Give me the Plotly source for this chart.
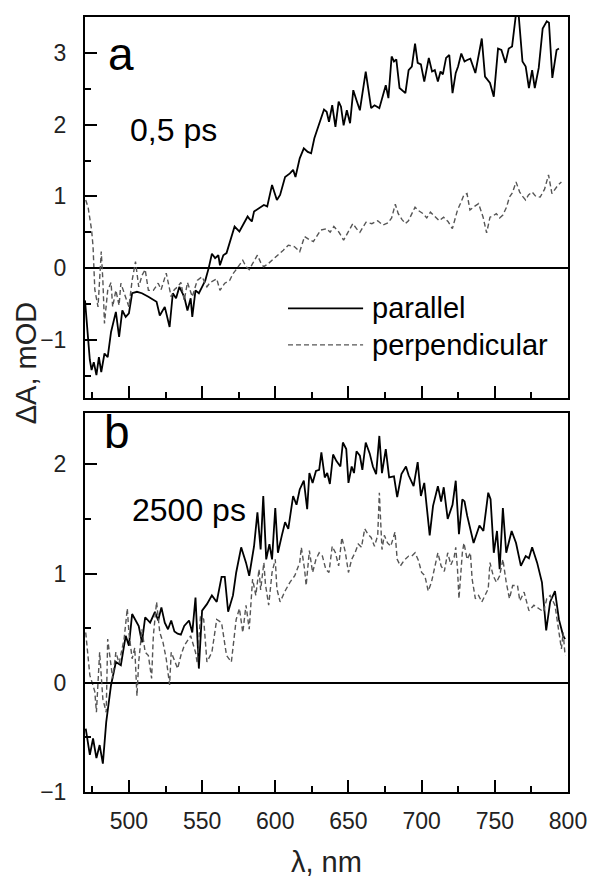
import plotly.graph_objects as go

# ---------------- data ----------------
# Panel a: 0,5 ps
wl_a_par = [470.0, 471.1, 473.3, 474.5, 476.0, 477.8, 479.5, 481.1, 483.3, 485.5, 487.8, 491.1, 493.3,
            495.5, 497.8, 500.0, 502.2, 505.5, 508.9, 513.3, 518.9, 521.1, 524.5, 527.8, 530.0, 532.2,
            534.5, 537.8, 540.0, 542.2, 543.3, 545.5, 547.8, 550.0, 552.2, 554.5, 556.7, 558.9, 561.1,
            562.2, 564.5, 566.7, 568.9, 572.2, 575.5, 578.9, 581.1, 582.2, 584.0, 585.5, 588.9, 592.2,
            594.5, 597.8, 601.1, 603.3, 606.7, 610.0, 612.2, 613.8, 616.7, 619.5, 622.2, 624.5, 626.7,
            630.0, 633.3, 635.1, 636.7, 638.9, 641.1, 643.3, 644.9, 646.7, 648.9, 651.1, 653.3, 655.5,
            657.8, 661.8, 665.5, 667.8, 671.1, 675.5, 677.3, 679.5, 681.1, 682.7, 684.9, 688.9, 691.1,
            693.3, 695.5, 697.3, 699.5, 701.8, 704.9, 707.1, 709.0, 711.1, 712.9, 714.5, 716.7, 718.9,
            721.1, 723.3, 724.9, 727.1, 729.3, 731.1, 733.3, 736.7, 741.1, 743.3, 746.7, 749.3, 752.2,
            754.5, 757.3, 759.5, 761.8, 764.5, 766.2, 768.9, 771.1, 773.3, 775.5, 777.3, 780.0, 782.7,
            785.5, 787.0, 789.3, 792.2, 793.8]
da_a_par = [-0.45, -0.77, -1.28, -1.42, -1.31, -1.49, -1.24, -1.45, -1.19, -1.24, -0.89, -0.61, -0.96,
            -0.59, -0.68, -0.63, -0.35, -0.33, -0.35, -0.40, -0.47, -0.66, -0.54, -0.82, -0.35, -0.42,
            -0.26, -0.40, -0.59, -0.42, -0.68, -0.31, -0.35, -0.26, -0.17, 0.00, 0.20, 0.14, 0.18,
            0.04, 0.18, 0.21, 0.37, 0.58, 0.51, 0.65, 0.72, 0.69, 0.65, 0.79, 0.83, 0.88,
            0.86, 1.16, 0.95, 1.02, 1.27, 1.32, 1.37, 1.27, 1.53, 1.67, 1.62, 1.60, 1.81,
            2.02, 2.21, 2.18, 2.04, 2.27, 1.97, 2.32, 2.25, 1.99, 2.20, 2.02, 2.48, 2.34,
            2.20, 2.74, 2.23, 2.27, 2.23, 2.55, 2.37, 2.95, 2.88, 2.91, 2.51, 2.44, 2.76,
            2.81, 3.13, 2.86, 2.84, 2.60, 2.93, 2.74, 2.76, 2.60, 2.74, 2.70, 2.93, 2.97,
            2.44, 2.72, 2.81, 2.99, 2.88, 2.90, 2.92, 2.72, 3.20, 2.67, 2.58, 2.39, 3.06,
            3.04, 2.86, 3.06, 3.09, 3.55, 3.55, 2.88, 2.81, 2.51, 2.76, 2.51, 2.79, 3.34,
            3.44, 3.42, 2.65, 3.04, 3.06]

wl_a_perp = [470.5, 472.2, 474.5, 475.5, 476.7, 478.9, 481.1, 482.2, 483.3, 484.4, 485.5, 487.8, 488.9,
             491.1, 493.3, 494.5, 496.7, 500.0, 502.2, 504.5, 506.7, 509.0, 511.1, 513.3, 516.7, 520.0,
             522.0, 524.5, 525.5, 528.9, 531.0, 533.3, 535.5, 537.8, 540.0, 543.3, 546.7, 550.0, 553.3,
             555.5, 557.8, 560.0, 562.2, 565.5, 568.9, 571.0, 573.3, 575.5, 577.8, 580.0, 582.2, 584.4,
             587.8, 590.0, 592.0, 594.5, 596.7, 599.0, 602.0, 605.5, 608.9, 613.0, 616.7, 620.0, 623.0,
             626.0, 628.5, 631.0, 635.0, 637.5, 640.0, 643.5, 646.7, 650.0, 653.0, 655.5, 657.8, 662.0,
             666.0, 670.0, 673.5, 677.0, 679.5, 682.0, 684.0, 686.5, 688.9, 691.0, 693.3, 695.5, 698.0,
             701.0, 703.5, 706.0, 709.0, 712.0, 715.0, 718.0, 721.0, 724.5, 726.5, 728.9, 731.0, 733.0,
             736.0, 738.9, 742.0, 744.4, 746.7, 749.0, 751.0, 753.3, 755.5, 758.0, 760.0, 762.0, 764.5,
             767.0, 769.0, 771.0, 773.0, 775.5, 778.0, 781.0, 784.0, 786.7, 789.0, 791.0, 793.3, 795.5]
da_a_perp = [0.95, 0.84, 0.53, 0.30, -0.30, -0.54, 0.23, -0.17, -0.77, -0.54, -0.31, -0.20, -0.54,
             -0.31, -0.52, -0.21, -0.35, -0.54, -0.17, 0.09, -0.26, -0.10, -0.02, -0.31, -0.31, -0.21,
             -0.30, -0.12, -0.07, -0.40, -0.30, -0.26, -0.20, -0.45, -0.20, -0.40, -0.17, -0.12, -0.26,
             -0.20, -0.17, -0.15, -0.31, -0.21, -0.17, -0.08, -0.02, 0.05, 0.11, 0.02, -0.02, 0.06,
             0.18, 0.08, 0.02, 0.05, 0.09, 0.12, 0.18, 0.25, 0.32, 0.30, 0.23, 0.44, 0.40,
             0.37, 0.45, 0.53, 0.55, 0.50, 0.58, 0.50, 0.39, 0.50, 0.62, 0.55, 0.50, 0.64,
             0.62, 0.66, 0.60, 0.63, 0.70, 0.89, 0.76, 0.68, 0.62, 0.66, 0.75, 0.85, 0.80,
             0.76, 0.70, 0.78, 0.72, 0.66, 0.71, 0.65, 0.55, 0.81, 0.90, 1.02, 1.04, 0.81,
             0.86, 0.90, 0.71, 0.49, 0.71, 0.73, 0.76, 0.70, 0.74, 0.85, 0.99, 1.05, 1.20,
             1.06, 1.00, 0.95, 1.02, 1.06, 1.00, 0.99, 1.10, 1.30, 1.04, 1.10, 1.16, 1.20]

# Panel b: 2500 ps
wl_b_par = [470.5, 473.3, 475.5, 477.8, 480.0, 482.2, 484.5, 487.8, 491.1, 494.5, 497.8, 500.0, 502.2,
            506.7, 508.9, 511.1, 514.5, 517.8, 520.0, 522.2, 524.5, 526.7, 528.9, 531.1, 533.3, 535.5,
            537.8, 541.1, 543.3, 545.5, 547.8, 550.0, 553.3, 556.7, 560.0, 563.3, 565.5, 567.8, 571.1,
            573.3, 576.7, 580.0, 582.2, 585.5, 587.8, 590.0, 591.8, 593.8, 596.0, 597.8, 600.0, 601.8,
            604.5, 606.7, 608.9, 612.2, 614.5, 616.7, 619.5, 621.8, 623.3, 625.5, 627.8, 630.0, 631.5,
            633.8, 635.5, 637.3, 639.5, 641.8, 644.5, 646.2, 648.5, 650.0, 652.2, 653.8, 655.5, 657.8,
            659.5, 661.8, 664.5, 666.7, 668.9, 671.1, 672.9, 675.5, 677.8, 681.1, 683.3, 686.2, 689.3,
            691.1, 694.5, 697.3, 699.5, 701.8, 705.5, 707.8, 711.1, 713.3, 715.1, 717.8, 721.1, 723.3,
            725.5, 727.8, 729.3, 731.1, 735.5, 739.5, 742.2, 745.5, 747.1, 749.3, 751.5, 753.3, 755.5,
            757.8, 761.5, 764.5, 767.8, 771.1, 773.3, 775.5, 778.9, 782.2, 785.1, 787.8, 791.1, 793.8,
            796.7, 798.0]
da_b_par = [-0.42, -0.66, -0.51, -0.69, -0.57, -0.74, -0.36, -0.02, 0.19, 0.16, 0.43, 0.34, 0.63,
            0.52, 0.37, 0.60, 0.55, 0.65, 0.57, 0.69, 0.55, 0.49, 0.57, 0.47, 0.45, 0.44,
            0.52, 0.57, 0.46, 0.78, 0.13, 0.66, 0.72, 0.80, 0.74, 0.97, 0.97, 0.65, 0.80,
            1.01, 1.24, 1.10, 0.98, 1.25, 1.56, 1.22, 1.71, 1.13, 1.27, 1.13, 1.60, 1.19,
            1.35, 1.47, 1.41, 1.71, 1.63, 1.77, 1.85, 1.59, 1.92, 1.83, 1.94, 1.95, 2.11,
            1.88, 1.92, 1.82, 2.09, 2.03, 1.98, 2.20, 2.14, 1.83, 1.98, 1.92, 2.12, 2.08,
            1.95, 2.20, 2.10, 1.98, 1.91, 2.26, 1.92, 2.14, 1.88, 1.89, 1.70, 1.91, 1.98,
            1.90, 1.80, 2.02, 1.71, 1.83, 1.35, 1.62, 1.80, 1.66, 1.79, 1.50, 1.63, 1.85,
            1.36, 1.68, 1.66, 1.53, 1.28, 1.44, 1.39, 1.74, 1.68, 1.19, 1.39, 1.04, 1.60,
            1.19, 1.39, 1.28, 1.07, 1.16, 1.14, 1.24, 1.10, 0.92, 0.48, 0.74, 0.84, 0.58,
            0.43, 0.40]

wl_b_perp = [470.5, 472.2, 473.3, 476.7, 477.8, 480.0, 482.2, 484.5, 485.5, 488.9, 491.1, 493.3, 496.7,
             498.9, 500.0, 502.2, 504.0, 505.5, 506.7, 508.9, 511.1, 513.3, 515.5, 516.7, 518.9, 521.1,
             523.3, 525.5, 527.8, 528.9, 531.1, 533.3, 535.5, 537.8, 542.2, 545.5, 546.7, 548.9, 551.1,
             553.3, 556.7, 560.0, 563.3, 566.7, 570.0, 573.3, 575.5, 577.8, 580.0, 582.2, 584.5, 586.7,
             588.9, 590.0, 592.2, 593.3, 595.5, 597.8, 600.0, 601.1, 603.3, 606.7, 610.0, 613.3, 616.7,
             617.8, 620.0, 621.1, 623.3, 625.5, 627.8, 630.0, 632.2, 634.5, 636.7, 638.9, 641.1, 643.3,
             645.5, 647.8, 650.0, 652.2, 654.5, 656.7, 658.9, 661.1, 663.3, 665.5, 667.8, 670.0, 671.1,
             672.0, 672.9, 674.5, 676.7, 678.9, 681.8, 683.3, 685.5, 688.0, 691.1, 693.3, 695.5, 697.8,
             700.0, 702.2, 704.5, 706.7, 708.9, 711.1, 713.3, 715.5, 717.8, 720.0, 722.2, 723.3, 724.5,
             725.5, 727.8, 728.9, 731.1, 733.3, 734.5, 736.7, 738.9, 741.1, 745.5, 746.7, 748.9, 751.1,
             753.3, 755.5, 757.8, 760.0, 762.2, 765.5, 767.1, 770.0, 773.3, 776.7, 780.0, 783.3, 785.5,
             787.8, 791.1, 794.0, 795.5, 796.7, 798.0]
da_b_perp = [0.46, 0.22, 0.07, -0.08, -0.27, 0.28, -0.15, -0.27, 0.40, 0.04, 0.28, 0.18, 0.40,
             0.68, 0.46, 0.22, 0.32, -0.12, 0.19, 0.49, 0.28, 0.25, 0.04, 0.43, 0.74, 0.46,
             0.37, 0.22, -0.02, 0.28, 0.20, 0.13, 0.25, 0.34, 0.43, 0.28, 0.18, 0.61, 0.58,
             0.19, 0.28, 0.58, 0.55, 0.25, 0.19, 0.58, 0.68, 0.46, 0.71, 0.49, 0.95, 0.80,
             1.04, 0.85, 1.10, 0.90, 0.71, 1.01, 1.13, 0.86, 0.74, 0.84, 0.92, 0.98, 1.10,
             1.24, 1.04, 0.89, 1.21, 1.01, 1.13, 1.19, 1.16, 1.04, 1.01, 1.25, 1.19, 1.07,
             1.33, 1.20, 1.01, 1.13, 1.19, 1.27, 1.24, 1.41, 1.36, 1.33, 1.25, 1.35, 1.74,
             1.50, 1.22, 1.35, 1.28, 1.25, 1.38, 1.13, 1.07, 1.12, 1.16, 1.16, 1.19, 1.12,
             1.01, 0.98, 0.84, 0.92, 1.07, 1.19, 1.07, 1.02, 1.19, 1.08, 1.15, 1.24, 1.04,
             0.77, 1.19, 1.28, 1.13, 1.19, 0.95, 0.77, 0.80, 0.74, 0.86, 1.10, 0.98, 0.92,
             0.98, 1.13, 0.92, 0.77, 0.89, 0.89, 0.75, 0.83, 0.66, 0.71, 0.68, 0.65, 0.77,
             0.80, 0.71, 0.46, 0.31, 0.46, 0.25]

x_ticks = [500, 550, 600, 650, 700, 750, 800]
ya_ticks = [-1, 0, 1, 2, 3]
yb_ticks = [-1, 0, 1, 2]

# ---------------- figure ----------------
FONT = "Liberation Sans, Arial, sans-serif"
W, H = 599, 879
ML, MR, MT, MB = 85, 20, 17, 87

solid = dict(color="black", width=1.8)
dashed = dict(color="#555555", width=1.4, dash="5px,3px")

fig = go.Figure()
fig.add_trace(go.Scatter(x=wl_a_par, y=da_a_par, mode="lines", line=solid,
                         name="parallel", xaxis="x", yaxis="y", showlegend=False))
fig.add_trace(go.Scatter(x=wl_a_perp, y=da_a_perp, mode="lines", line=dashed,
                         name="perpendicular", xaxis="x", yaxis="y", showlegend=False))
fig.add_trace(go.Scatter(x=wl_b_par, y=da_b_par, mode="lines", line=solid,
                         name="parallel", xaxis="x2", yaxis="y2", showlegend=False))
fig.add_trace(go.Scatter(x=wl_b_perp, y=da_b_perp, mode="lines", line=dashed,
                         name="perpendicular", xaxis="x2", yaxis="y2", showlegend=False))

tickfont = dict(family=FONT, size=23, color="#222222")

def xax(anchor, labels):
    return dict(range=[470, 800], anchor=anchor, tickvals=x_ticks, showticklabels=labels,
                ticks="inside", ticklen=12, tickwidth=2, tickcolor="black",
                showline=True, linewidth=2, linecolor="black", mirror=True,
                showgrid=False, zeroline=False, tickfont=tickfont, ticklabelstandoff=7,
                minor=dict(ticks="inside", ticklen=6, tickwidth=2, tickcolor="black",
                           dtick=25, tick0=475, showgrid=False))

def yax(dom, rng, tv):
    return dict(domain=dom, range=rng, tickvals=tv, ticks="inside", ticklen=12, tickwidth=2,
                tickcolor="black", showline=True, linewidth=2, linecolor="black", mirror=True,
                showgrid=False, zeroline=True, zerolinecolor="black", zerolinewidth=2,
                tickfont=tickfont, ticklabelstandoff=12,
                minor=dict(ticks="inside", ticklen=6, tickwidth=2, tickcolor="black",
                           dtick=0.5, tick0=0, showgrid=False))

plot_h = H - MT - MB
def yp(py):
    return (H - MB - py) / plot_h

fig.update_layout(
    width=W, height=H, autosize=False,
    margin=dict(l=ML, r=MR, t=MT, b=MB),
    paper_bgcolor="white", plot_bgcolor="white",
    xaxis=xax("y", False),
    xaxis2=dict(xax("y2", True), matches="x"),
    yaxis=yax([yp(398), 1.0], [-1.81, 3.5], ya_ticks),
    yaxis2=yax([0.0, yp(413)], [-1.0, 2.47], yb_ticks),
    showlegend=False,
)

ann = []
ann.append(dict(text="a", x=494.5, y=2.98, xref="x", yref="y", showarrow=False,
                xanchor="center", yanchor="middle",
                font=dict(family=FONT, size=46, color="black")))
ann.append(dict(text="0,5 ps", x=499.5, y=1.92, xref="x", yref="y", showarrow=False,
                xanchor="left", yanchor="middle", font=dict(family=FONT, size=32, color="black")))
ann.append(dict(text="b", x=492.0, y=2.30, xref="x2", yref="y2", showarrow=False,
                xanchor="center", yanchor="middle",
                font=dict(family=FONT, size=46, color="black")))
ann.append(dict(text="2500 ps", x=501.0, y=1.58, xref="x2", yref="y2", showarrow=False,
                xanchor="left", yanchor="middle", font=dict(family=FONT, size=32, color="black")))
# legend (drawn manually so the sample lines have the reference length)
ann.append(dict(text="parallel", x=665, y=-0.56, xref="x", yref="y", showarrow=False,
                xanchor="left", yanchor="middle", font=dict(family=FONT, size=29, color="black")))
ann.append(dict(text="perpendicular", x=665, y=-1.07, xref="x", yref="y", showarrow=False,
                xanchor="left", yanchor="middle", font=dict(family=FONT, size=29, color="black")))
# axis titles
ann.append(dict(text="ΔA, mOD", x=(25 - ML) / (W - ML - MR), y=yp(363), xref="paper", yref="paper",
                xanchor="center", yanchor="middle",
                showarrow=False, textangle=-90, font=dict(family=FONT, size=29, color="#222222")))
ann.append(dict(text="λ, nm", x=(332 - ML) / (W - ML - MR), y=yp(862), xref="paper", yref="paper",
                xanchor="center", yanchor="middle",
                showarrow=False, font=dict(family=FONT, size=29, color="#222222")))
fig.update_layout(annotations=ann)

fig.add_shape(type="line", x0=608.7, x1=660, y0=-0.56, y1=-0.56, xref="x", yref="y",
              line=dict(color="black", width=1.8))
fig.add_shape(type="line", x0=608.7, x1=660, y0=-1.07, y1=-1.07, xref="x", yref="y",
              line=dict(color="#555555", width=1.4, dash="5px,3px"))

fig.write_html("out.html")
